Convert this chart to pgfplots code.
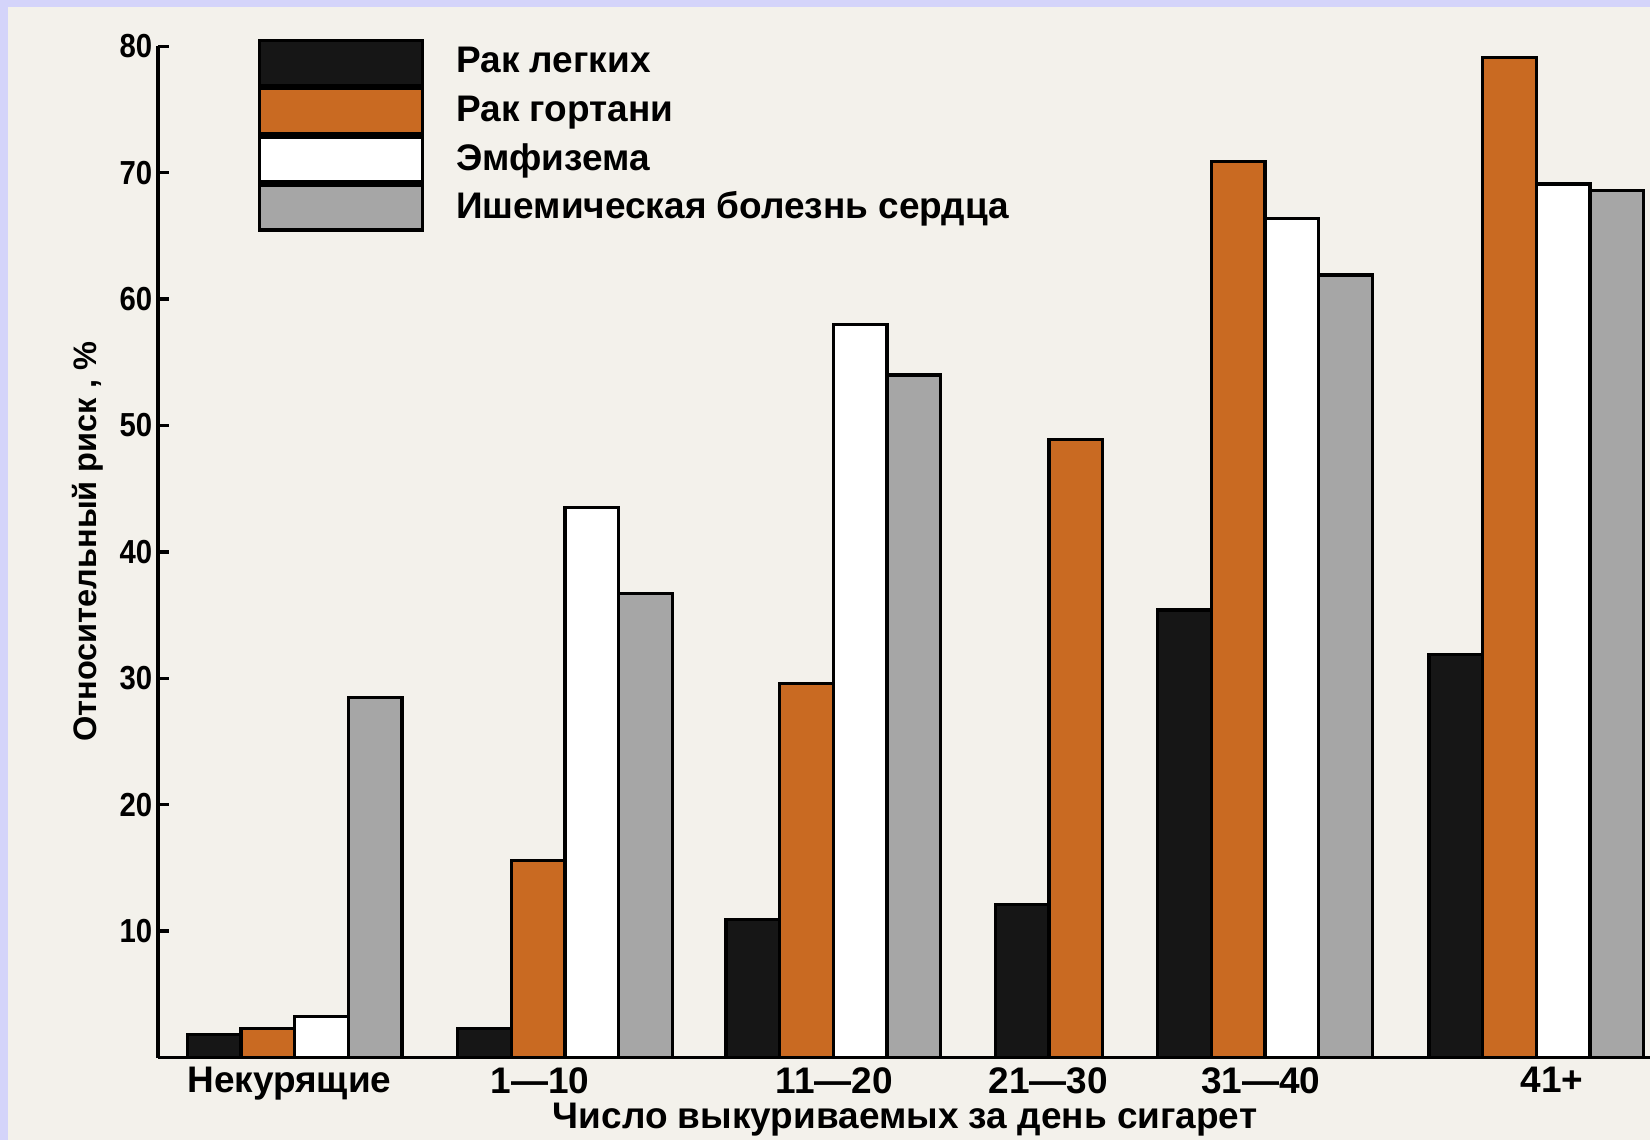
\documentclass[border=0pt]{standalone}
\usepackage{fontspec}
\setmainfont{Liberation Sans}
\newfontfamily\condfont{Liberation Sans}[FakeStretch=0.88]
\usepackage{pgfplots}
\pgfplotsset{compat=1.18}
\definecolor{paper}{HTML}{F3F1EB}
\definecolor{lav}{HTML}{D4D4FA}
\definecolor{barorange}{HTML}{C96A22}
\definecolor{bargrey}{HTML}{A6A6A6}
\definecolor{barblack}{HTML}{161616}
\begin{document}
\begin{tikzpicture}
\path[use as bounding box] (0,0) rectangle (156.8mm,108.3mm);
\fill[lav] (0,0) rectangle (156.8mm,108.3mm);
\fill[paper] (0.8mm,0) rectangle (156.8mm,107.6mm);
\begin{axis}[
  at={(15mm,7.8mm)}, anchor=south west,
  scale only axis, width=141.8mm, height=96.1mm,
  xmin=150, xmax=1568, ymin=0, ymax=80,
  axis lines=left, axis line style={-, line width=0.9pt, black},
  ybar, bar width=51,
  ytick={10,20,30,40,50,60,70,80},
  tick align=inside,
  major tick length=1.1mm,
  y tick style={line width=0.9pt, black},
  xtick={275,513,793,996,1198,1475},
  xticklabels={Некурящие,1—10,11—20,21—30,31—40,41+},
  x tick style={draw=none},
  x tick label style={font=\bfseries, yshift=0.3mm},
  y tick label style={font=\condfont\bfseries\fontsize{9}{10}\selectfont, xshift=0.7mm},
  /pgf/number format/assume math mode=true,
  xlabel={Число выкуриваемых за день сигарет},
  ylabel={Относительный риск , \%},
  x label style={at={(axis description cs:0.5007,-0.0614)}, anchor=center, font=\bfseries},
  y label style={at={(axis description cs:-0.0472,0.51)}, anchor=center, font=\bfseries\fontsize{8.8}{10}\selectfont},
  legend image code/.code={\draw[#1, line width=0.9pt] (0mm,-2.29mm+0.45pt) rectangle (15.5mm,2.29mm-0.45pt);
     \path[draw=none, fill=none] (0mm,0mm) -- (18.7mm,0mm);},
  legend cell align=left,
  legend style={at={(rel axis cs:0.067,1.0073)}, anchor=north west, draw=none, fill=none,
    inner sep=0pt, outer sep=0pt, row sep=0pt,
    nodes={inner sep=0pt, font=\bfseries}},
]
\addplot[bar shift=0pt, fill=barblack, draw=black, line width=0.9pt] coordinates {
 (203.5,1.8) (460.5,2.3) (715.5,10.9) (971.5,12.1) (1125.5,35.4) (1383.5,31.9)};
\addplot[bar shift=0pt, fill=barorange, draw=black, line width=0.9pt] coordinates {
 (254.5,2.3) (511.5,15.6) (766.5,29.6) (1022.5,48.9) (1176.5,70.9) (1434.5,79.1)};
\addplot[bar shift=0pt, fill=white, draw=black, line width=0.9pt] coordinates {
 (305.5,3.25) (562.5,43.5) (817.5,58.0) (1227.5,66.4) (1485.5,69.1)};
\addplot[bar shift=0pt, fill=bargrey, draw=black, line width=0.9pt] coordinates {
 (356.5,28.5) (613.5,36.7) (868.5,54.0) (1278.5,61.9) (1536.5,68.6)};
\legend{Рак легких, Рак гортани, Эмфизема, Ишемическая болезнь сердца}
\end{axis}
\end{tikzpicture}
\end{document}
